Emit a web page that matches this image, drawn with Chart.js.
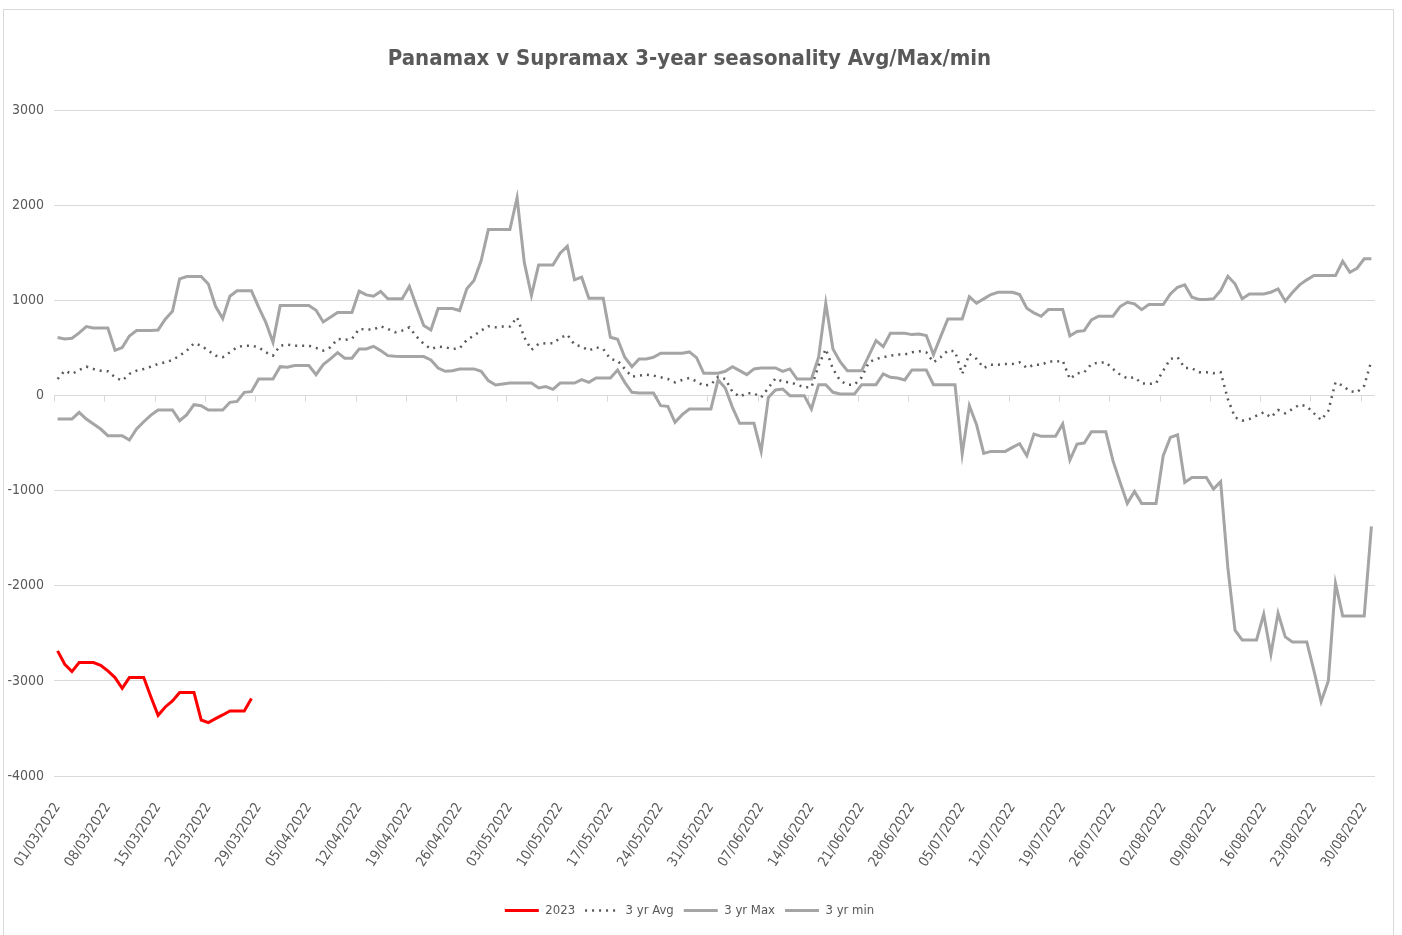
<!DOCTYPE html>
<html>
<head>
<meta charset="utf-8">
<script src="https://cdn.jsdelivr.net/npm/chart.js@4"></script>
<style>
  body { margin: 0; background: #fff; }
  #wrap { position: relative; width: 1402px; height: 935px; }
  #frame { position: absolute; left: 3px; top: 9px; width: 1391px; height: 940px; border: 1px solid #d9d9d9; box-sizing: border-box; }
</style>
</head>
<body>
<div id="wrap">
  <div id="frame"></div>
  <canvas id="my-chart" width="1402" height="935"></canvas>
</div>
<script>
// date categories, 01/03/2022 to 31/08/2022
const labels = [];
for (let d = new Date(2022, 2, 1); d <= new Date(2022, 7, 31); d.setDate(d.getDate() + 1)) {
  const dd = String(d.getDate()).padStart(2, '0');
  const mm = String(d.getMonth() + 1).padStart(2, '0');
  labels.push(`${dd}/${mm}/${d.getFullYear()}`);
}

// 2023 so far
const values2023 = [
  -2684, -2825, -2902, -2807, -2807, -2807, -2835, -2895, -2965, -3077,
  -2965, -2965, -2965, -3169, -3362, -3274, -3211, -3123, -3123, -3123,
  -3411, -3439, -3397, -3358, -3316, -3316, -3316, -3186
];

const avg3yr = [
  175, 263, 228, 270, 305, 281, 263, 256, 193, 158,
  228, 263, 281, 305, 333, 351, 375, 421, 474, 551,
  526, 474, 421, 404, 456, 509, 526, 526, 509, 456,
  421, 526, 537, 526, 526, 526, 502, 474, 509, 597,
  586, 597, 702, 695, 695, 730, 702, 667, 684, 719,
  621, 544, 491, 516, 509, 491, 498, 586, 632, 684,
  730, 719, 726, 726, 825, 614, 481, 544, 551, 551,
  607, 642, 537, 516, 474, 509, 491, 386, 368, 281,
  200, 211, 221, 211, 193, 175, 140, 165, 186, 150,
  105, 116, 200, 175, 42, -11, 25, 25, -18, 81,
  182, 147, 140, 116, 88, 88, 316, 491, 281, 158,
  116, 116, 193, 351, 386, 404, 421, 432, 432, 456,
  467, 456, 351, 404, 474, 467, 228, 439, 386, 291,
  326, 326, 333, 333, 351, 291, 326, 323, 358, 358,
  368, 175, 235, 246, 333, 347, 351, 281, 221, 182,
  193, 130, 123, 130, 263, 386, 404, 291, 288, 246,
  246, 235, 246, -35, -228, -263, -246, -211, -175, -228,
  -151, -186, -140, -95, -112, -186, -256, -158, 140, 105,
  46, 35, 105, 368
];

const max3yr = [
  611, 597, 604, 660, 726, 712, 712, 712, 477, 505,
  628, 684, 684, 684, 691, 804, 888, 1228, 1253, 1253,
  1253, 1175, 940, 811, 1046, 1102, 1102, 1102, 930, 772,
  561, 947, 947, 947, 947, 947, 898, 775, 825, 874,
  874, 874, 1100, 1060, 1046, 1095, 1018, 1018, 1018, 1151,
  940, 737, 691, 916, 916, 916, 895, 1123, 1211, 1421,
  1747, 1747, 1747, 1747, 2081, 1404, 1053, 1375, 1375, 1375,
  1498, 1572, 1218, 1246, 1025, 1025, 1025, 614, 593, 404,
  305, 386, 386, 404, 446, 446, 446, 446, 460, 400,
  235, 235, 235, 256, 305, 263, 221, 281, 291, 291,
  291, 256, 281, 175, 175, 175, 404, 972, 491, 358,
  263, 263, 263, 421, 579, 516, 656, 656, 656, 642,
  649, 632, 432, 621, 807, 807, 807, 1042, 972, 1018,
  1063, 1088, 1088, 1088, 1063, 920, 870, 835, 905, 905,
  905, 628, 674, 684, 797, 835, 835, 835, 937, 982,
  965, 905, 958, 958, 958, 1070, 1140, 1165, 1035, 1011,
  1011, 1018, 1105, 1256, 1176, 1018, 1070, 1070, 1070, 1088,
  1123, 993, 1084, 1165, 1218, 1263, 1263, 1263, 1263, 1414,
  1298, 1340, 1439, 1439
];

const min3yr = [
  -246, -246, -246, -175, -246, -298, -351, -421, -421, -421,
  -467, -351, -274, -204, -151, -151, -151, -263, -200, -95,
  -105, -151, -151, -151, -70, -60, 35, 42, 175, 175,
  175, 305, 298, 316, 316, 316, 221, 326, 386, 453,
  393, 393, 491, 491, 519, 474, 421, 414, 411, 411,
  411, 411, 375, 291, 256, 263, 281, 281, 281, 256,
  158, 112, 123, 133, 133, 133, 133, 81, 95, 67,
  133, 133, 133, 168, 140, 186, 186, 186, 270, 140,
  35, 28, 28, 28, -105, -112, -281, -200, -140, -140,
  -140, -140, 165, 81, -123, -291, -291, -291, -586, -18,
  60, 70, 0, 0, 0, -140, 116, 116, 35, 18,
  18, 18, 116, 116, 116, 228, 193, 186, 165, 270,
  270, 270, 116, 116, 116, 116, -614, -105, -305, -607,
  -586, -586, -586, -544, -505, -632, -404, -428, -428, -428,
  -298, -677, -509, -498, -379, -379, -379, -684, -912, -1133,
  -1007, -1133, -1133, -1133, -632, -439, -411, -912, -860, -860,
  -860, -983, -905, -1807, -2467, -2569, -2569, -2569, -2298, -2719,
  -2288, -2537, -2590, -2590, -2590, -2895, -3218, -3000, -1976, -2316,
  -2316, -2316, -2316, -1376
];

const FONT = "'Liberation Sans Narrow', 'DejaVu Sans Condensed', 'Liberation Sans', sans-serif";
const TEXT = '#595959';
const GRID = '#d9d9d9';
const GREY = '#a5a5a5';

// little tick marks on the zero line, between every 7th category
const zeroTicks = {
  id: 'zeroTicks',
  beforeDatasetsDraw(chart) {
    const { ctx, scales: { x, y } } = chart;
    const y0 = y.getPixelForValue(0);
    ctx.save();
    ctx.strokeStyle = GRID;
    ctx.lineWidth = 1;
    for (let i = 0; i < labels.length; i += 7) {
      const px = Math.round(x.getPixelForValue(i - 0.5)) + 0.5;
      ctx.beginPath();
      ctx.moveTo(px, y0);
      ctx.lineTo(px, y0 + 6);
      ctx.stroke();
    }
    ctx.restore();
  }
};

const ctx = document.getElementById('my-chart').getContext('2d');

const myChart = new Chart(ctx, {
  type: 'line',
  data: {
    labels,
    datasets: [
      {
        label: '2023',
        data: values2023,
        borderColor: '#ff0000',
        backgroundColor: '#ff0000',
        borderWidth: 3,
        order: 0
      },
      {
        label: '3 yr Avg',
        data: avg3yr,
        borderColor: '#595959',
        backgroundColor: '#595959',
        borderWidth: 2.5,
        borderDash: [2, 5],
        order: 1
      },
      {
        label: '3 yr Max',
        data: max3yr,
        borderColor: GREY,
        backgroundColor: GREY,
        borderWidth: 3,
        order: 2
      },
      {
        label: '3 yr min',
        data: min3yr,
        borderColor: GREY,
        backgroundColor: GREY,
        borderWidth: 3,
        order: 3
      }
    ]
  },
  options: {
    responsive: false,
    animation: false,
    devicePixelRatio: 1,
    layout: { padding: { left: 4, right: 27, top: 20, bottom: 8 } },
    elements: {
      point: { radius: 0, hoverRadius: 0 },
      line: { tension: 0, fill: false }
    },
    plugins: {
      title: {
        display: true,
        text: 'Panamax v Supramax 3-year seasonality Avg/Max/min',
        color: TEXT,
        font: { family: FONT, size: 22, weight: 'bold' },
        padding: { top: 26, bottom: 38 }
      },
      legend: {
        position: 'bottom',
        labels: {
          color: TEXT,
          font: { family: FONT, size: 13 },
          usePointStyle: true,
          pointStyle: 'line',
          pointStyleWidth: 34,
          boxHeight: 13,
          padding: 10,
          // take dash and width from the dataset line, not from its points
          generateLabels(chart) {
            const items = Chart.defaults.plugins.legend.labels.generateLabels(chart);
            items.forEach(item => {
              const ds = chart.data.datasets[item.datasetIndex];
              item.lineDash = ds.borderDash || [];
              item.lineWidth = ds.borderWidth;
              item.strokeStyle = ds.borderColor;
            });
            return items;
          }
        }
      },
      tooltip: { enabled: false }
    },
    scales: {
      x: {
        type: 'category',
        offset: true,
        grid: { display: false },
        border: { display: false },
        ticks: {
          autoSkip: false,
          minRotation: 57,
          maxRotation: 57,
          padding: 16,
          color: TEXT,
          font: { family: FONT, size: 14 },
          callback(val, i) {
            return i % 7 === 0 ? this.getLabelForValue(val) : '';
          }
        },
        afterFit(scale) { scale.height = 118; }
      },
      y: {
        min: -4000,
        max: 3000,
        border: { display: false },
        grid: { color: GRID, drawTicks: false },
        ticks: {
          stepSize: 1000,
          padding: 10,
          color: TEXT,
          font: { family: FONT, size: 14 },
          callback: v => String(v)
        },
        afterFit(scale) { scale.width = 50; }
      }
    }
  },
  plugins: [zeroTicks]
});
</script>
</body>
</html>
